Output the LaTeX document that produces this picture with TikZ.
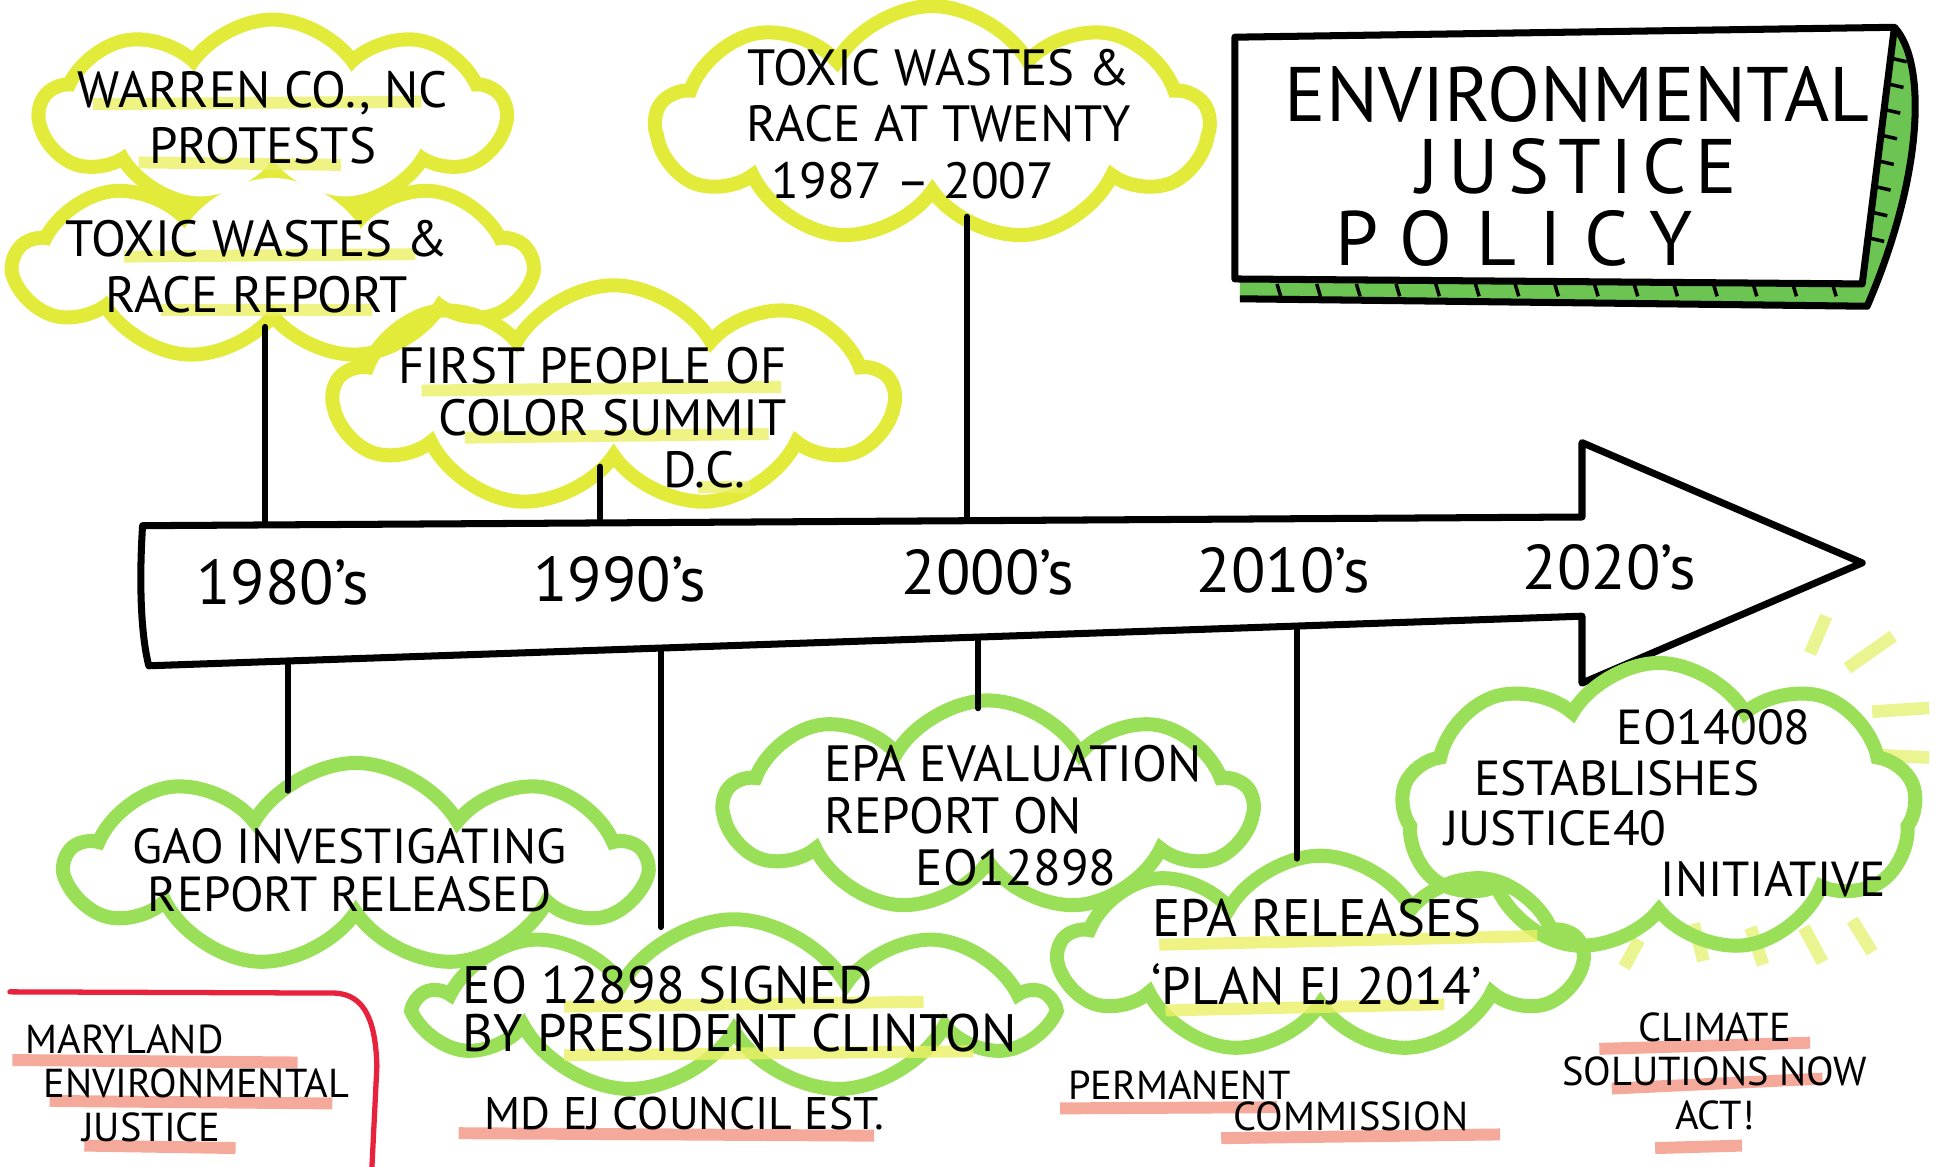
\documentclass[tikz,border=0pt]{standalone}
\usepackage{fontspec}
\setmainfont{PT Sans}
\usepackage{xcolor}
\usetikzlibrary{shapes.symbols,calc}
\definecolor{ejyellow}{HTML}{E2EA3A}
\definecolor{ejgreen}{HTML}{9ADF58}
\definecolor{ejmark}{HTML}{EAF064}
\definecolor{ejsalmon}{HTML}{F29A88}
\definecolor{ejred}{HTML}{E8213C}
\definecolor{ejtitle}{HTML}{6CC552}
\definecolor{ejray}{HTML}{E6F27C}
\tikzset{
  ycloud/.style={cloud,cloud puffs=9,cloud puff arc=120,cloud ignores aspect,draw=ejyellow,line width=4pt,inner sep=0pt},
  gcloud/.style={ycloud,draw=ejgreen},
  pcloud/.style={ycloud,line width=8pt},
  cloudfill/.style={cloud,cloud puffs=9,cloud puff arc=120,cloud ignores aspect,fill=white,inner sep=0pt},
  evtext/.style={font=\fontsize{14.5}{16}\selectfont,align=center,inner sep=0pt},
  ejnote/.style={font=\fontsize{11.5}{12.5}\selectfont,align=left,inner sep=0pt},
  decade/.style={font=\fontsize{18}{20}\selectfont,inner sep=0pt},
  tline/.style={line width=2pt,line join=round},
  conn/.style={line width=1.7pt,line cap=round},
  hly/.style={draw=ejmark,line width=3.4pt,opacity=.8},
  hlr/.style={draw=ejsalmon,line width=3.4pt,opacity=.85},
  ray/.style={draw=ejray,line width=3.6pt,opacity=.85},
  tick/.style={line width=1pt}
}
\begin{document}
\begin{tikzpicture}[x=0.0124cm,y=-0.0124cm]
\useasboundingbox (0,0) rectangle (1568,941);

% sun rays behind the Justice40 cloud
\foreach \xa/\ya/\xb/\yb in {1473/497/1460/527,1527/513/1490/539,1556/571/1510/574,1556/611/1513/609,
  1322/758/1310/780,1366/745/1374/775,1412/748/1422/778,1455/748/1470/776,1494/742/1510/768}
  \draw[ray] (\xa,\ya) -- (\xb,\yb);

% title box
\fill[ejtitle] (1000,226) -- (1500,229) -- (1528,22) .. controls (1554,50) and (1552,140) .. (1506,247) -- (1000,241) -- cycle;
\draw[tline,fill=white] (996,30) -- (1528,22) -- (1502,229) -- (996,225) -- cycle;
\draw[tline] (1528,22) .. controls (1554,50) and (1552,140) .. (1506,247) -- (1000,241);
\foreach \x in {1030,1062,...,1480} \draw[tick] (\x,229) -- (\x+3,239);
\foreach \t in {0.12,0.22,...,0.92} \draw[tick] ($(1528,22)!\t!(1502,229)$) -- ++(13,3);
\node[font=\fontsize{22}{20.5}\selectfont,align=center,inner sep=0pt] (title) at (1272,134)
  {ENVIRONMENTAL\\{\addfontfeatures{LetterSpace=12}JUSTICE}\hspace*{18pt}\\{\addfontfeatures{LetterSpace=30}POLICY}\hspace*{36pt}};

% timeline
\coordinate (tl) at (115,424);
\coordinate (nt) at (1276,417);
\coordinate (ht) at (1276,357);
\coordinate (tip) at (1502,454);
\coordinate (hb) at (1276,551);
\coordinate (nb) at (1276,497);
\coordinate (bl) at (120,537);
\draw[tline,fill=white] (tl) -- (nt) -- (ht) -- (tip) -- (hb) -- (nb) -- (bl) .. controls (112,505) and (113,455) .. cycle;
\node[decade] (d80) at (228,470) {1980's};
\node[decade] (d90) at (500,467) {1990's};
\node[decade] (d00) at (797,462) {2000's};
\node[decade] (d10) at (1035,460) {2010's};
\node[decade] (d20) at (1298,458) {2020's};

% clouds
\node[pcloud,minimum width=4.5cm,minimum height=1.75cm] (warren) at (220,92) {};
\node[pcloud,minimum width=5cm,minimum height=1.75cm] (report) at (220,214) {};
\node[cloudfill,minimum width=4.5cm,minimum height=1.75cm] at (warren) {};
\node[cloudfill,minimum width=5cm,minimum height=1.75cm] at (report) {};
\node[ycloud,minimum width=5.58cm,minimum height=2.23cm] (summit) at (495,320) {};
\node[ycloud,minimum width=5.52cm,minimum height=2.36cm] (twenty) at (752,100) {};
\node[gcloud,minimum width=5.77cm,minimum height=2.05cm] (gao) at (287,698) {};
\node[gcloud,minimum width=6.26cm,minimum height=1.75cm] (eosign) at (592,812) {};
\node[gcloud,minimum width=5.27cm,minimum height=2.11cm] (eval) at (797,650) {};
\node[gcloud,minimum width=5.21cm,minimum height=1.98cm] (release) at (1065,770) {};
\node[gcloud,minimum width=5.15cm,minimum height=2.91cm] (jforty) at (1338,652) {};

% marker highlights
\foreach \xa/\ya/\xb/\yb in {75/84/340/82,112/131/275/133,100/207/335/205,130/250/300/250,
  340/315/630/312,375/353/620/350,563/393/605/393,455/812/745/808,455/851/785/848,
  935/762/1240/755,940/815/1165/810}
  \draw[hly] (\xa,\ya) -- (\xb,\yb);
\foreach \xa/\ya/\xb/\yb in {370/914/705/916,855/894/1030/893,985/918/1210/915,
  1290/846/1460/841,1300/878/1470/870,1335/926/1405/924,10/855/240/857,40/888/268/890,68/924/190/926}
  \draw[hlr] (\xa,\ya) -- (\xb,\yb);

% texts
\node[evtext] (warrentxt) at (212,95) {WARREN CO., NC\\PROTESTS};
\node[evtext] (reporttxt) at (207,215) {TOXIC WASTES \&\\RACE REPORT};
\node[evtext,align=right,font=\fontsize{14.5}{14.8}\selectfont] (summittxt) at (478,337) {FIRST PEOPLE OF\\COLOR SUMMIT\\D.C.\hspace*{0.8em}};
\node[evtext] (twentytxt) at (757,100) {TOXIC WASTES \&\\RACE AT TWENTY\\1987 -- 2007\hspace*{1em}};
\node[evtext,font=\fontsize{14}{13.8}\selectfont] (gaotxt) at (282,702) {GAO INVESTIGATING\\REPORT RELEASED};
\node[evtext,align=left,font=\fontsize{15}{13.5}\selectfont] (eotxt) at (597,814) {EO 12898 SIGNED\\BY PRESIDENT CLINTON};
\node[evtext,align=left,font=\fontsize{14.5}{14.8}\selectfont] (evaltxt) at (817,658) {EPA EVALUATION\\REPORT ON\\\hspace*{1.8em}EO12898};
\node[evtext,font=\fontsize{15}{19.5}\selectfont] (releasetxt) at (1062,768) {EPA RELEASES\\`PLAN EJ 2014'};
\node[evtext,align=left,font=\fontsize{14}{14.4}\selectfont] (jfortytxt) at (1343,648)
  {\hspace*{3.5em}EO14008\\\hspace*{0.6em}ESTABLISHES\\JUSTICE40\\\hspace*{4.4em}INITIATIVE};
\node[ejnote,font=\fontsize{13}{14}\selectfont] (mdtxt) at (552,898) {MD EJ COUNCIL EST.};
\node[ejnote,font=\fontsize{11.5}{9}\selectfont] (permtxt) at (1023,888) {PERMANENT\\\hspace*{4.1em}COMMISSION};
\node[ejnote,align=center] (climatetxt) at (1383,864) {CLIMATE\\SOLUTIONS NOW\\ACT!};
\node[ejnote,anchor=west] (marylandtxt) at (20,874) {MARYLAND\\\hspace*{0.45em}ENVIRONMENTAL\\\hspace*{1.4em}JUSTICE};

% connectors
\coordinate (up80) at (214,423);
\coordinate (up90) at (484,421);
\coordinate (up00) at (780,419);
\coordinate (dn80) at (232,533);
\coordinate (dn90) at (533,523);
\coordinate (dn00) at (789,514);
\coordinate (dn10) at (1046,505);
\draw[conn] (report.south -| up80) -- (up80);
\draw[conn] ($(summittxt.south -| up90)+(0,-18)$) -- (up90);
\draw[conn] ($(twentytxt.south -| up00)+(0,14)$) -- (up00);
\draw[conn] (dn80) -- ($(gao.north -| dn80)+(0,28)$);
\draw[conn] (dn90) -- ($(eosign.north -| dn90)+(0,12)$);
\draw[conn] (dn00) -- ($(eval.north -| dn00)+(0,12)$);
\draw[conn] (dn10) -- ($(release.north -| dn10)+(0,8)$);

% Maryland frame
\draw[ejred,line width=1.5pt,line cap=round] (8,800) -- (270,801) .. controls (295,802) and (303,825) .. (304,860) -- (300,941);
\end{tikzpicture}
\end{document}
